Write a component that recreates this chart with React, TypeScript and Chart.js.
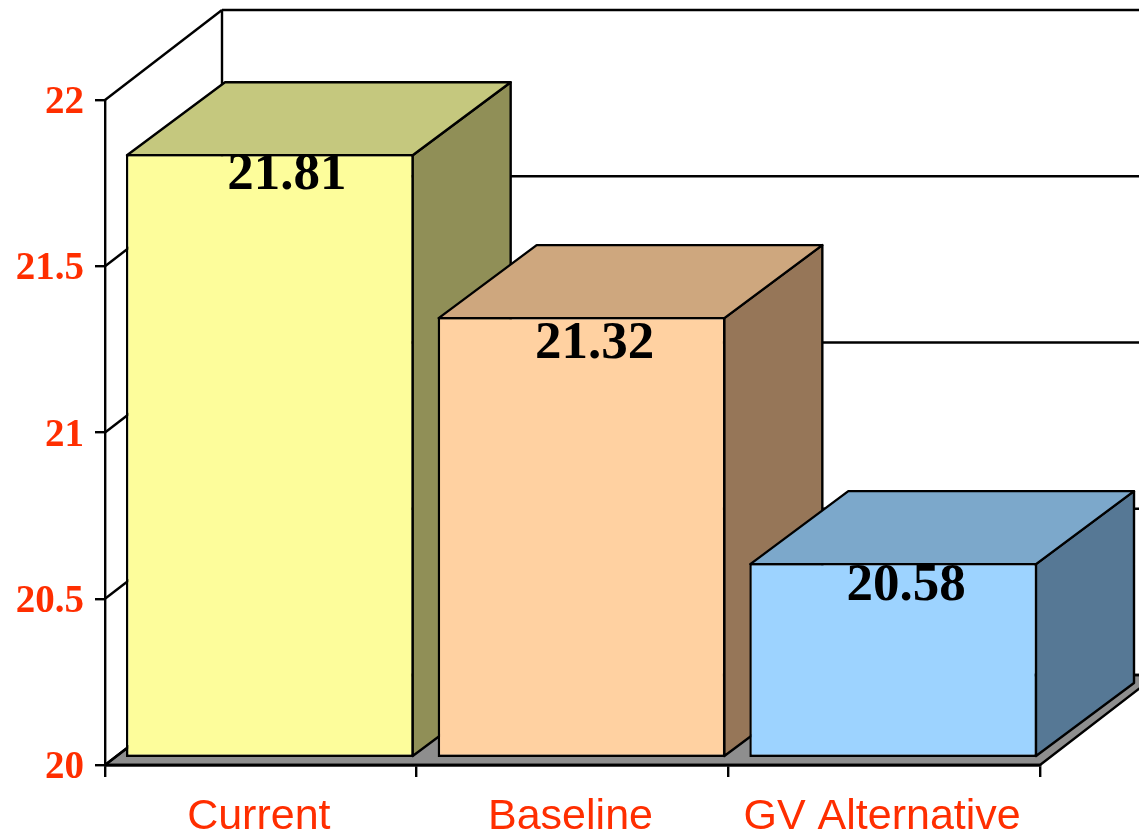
import React, { useEffect, useRef } from "react";
import { Chart, registerables } from "chart.js";

Chart.register(...registerables);

const categories = ["Current", "Baseline", "GV Alternative"];
const values = [21.81, 21.32, 20.58];
const valueLabels = ["21.81", "21.32", "20.58"];
const frontColors = ["#FDFD9B", "#FFD1A1", "#9DD3FF"];
const topColors = ["#C5C87E", "#CEA77E", "#7CA8CB"];
const sideColors = ["#908F57", "#967658", "#567895"];

const RED = "#FF2E00";
const FLOOR = "#8E8E8E";
const LINE = 2.4;
const WALL_DX = 117;
const WALL_DY = -90;
const BAR_DX = 98;
const BAR_DY = -73;
const BAR_SHIFT_X = 9;
const BAR_SHIFT_Y = -9;
const LABEL_NUDGE_X = [26, 22, 22];
const LABEL_NUDGE_Y = [21, 27, 23];

function poly(ctx: CanvasRenderingContext2D, pts: number[][], fill: string | null, stroke = true) {
  ctx.beginPath();
  pts.forEach((p, i) => (i ? ctx.lineTo(p[0], p[1]) : ctx.moveTo(p[0], p[1])));
  ctx.closePath();
  if (fill) {
    ctx.fillStyle = fill;
    ctx.fill();
  }
  if (stroke) {
    ctx.strokeStyle = "#000";
    ctx.lineWidth = LINE;
    ctx.lineJoin = "round";
    ctx.stroke();
  }
}

function segment(ctx: CanvasRenderingContext2D, x1: number, y1: number, x2: number, y2: number) {
  ctx.beginPath();
  ctx.moveTo(x1, y1);
  ctx.lineTo(x2, y2);
  ctx.strokeStyle = "#000";
  ctx.lineWidth = LINE;
  ctx.stroke();
}

const box3d = {
  id: "box3d",
  afterUpdate(chart: any) {
    chart.scales.y.getLabelItems(chart.chartArea).forEach((item: any) => {
      item.textOffset += 3;
    });
    chart.scales.x.getLabelItems(chart.chartArea).forEach((item: any) => {
      item.options.translation[0] -= 2;
    });
  },
  beforeDatasetsDraw(chart: any) {
    const { ctx, chartArea, scales } = chart;
    const yS = scales.y;
    const yBase = yS.getPixelForValue(yS.min);
    const yTop = yS.getPixelForValue(yS.max);
    const l = chartArea.left;
    const r = chartArea.right;
    ctx.save();
    poly(
      ctx,
      [
        [l, yBase],
        [r, yBase],
        [r + WALL_DX, yBase + WALL_DY],
        [l + WALL_DX, yBase + WALL_DY],
      ],
      FLOOR
    );
    yS.ticks.forEach((t: any) => {
      const py = yS.getPixelForValue(t.value);
      segment(ctx, l, py, l + WALL_DX, py + WALL_DY);
      segment(ctx, l + WALL_DX, py + WALL_DY, chart.width + 5, py + WALL_DY);
    });
    segment(ctx, l + WALL_DX, yTop + WALL_DY, l + WALL_DX, yBase + WALL_DY);
    segment(ctx, l, yBase, r, yBase);
    ctx.restore();
  },
  beforeDatasetDraw(chart: any) {
    const { ctx } = chart;
    const els = chart.getDatasetMeta(0).data;
    els.forEach((el: any, i: number) => {
      const L = el.x - el.width / 2 + BAR_SHIFT_X + 1;
      const R = el.x + el.width / 2 + BAR_SHIFT_X - 1;
      const T = el.y + BAR_SHIFT_Y + 1;
      const B = el.base + BAR_SHIFT_Y - 1;
      poly(ctx, [[R, T], [R + BAR_DX, T + BAR_DY], [R + BAR_DX, B + BAR_DY], [R, B]], sideColors[i]);
      poly(ctx, [[L, T], [R, T], [R + BAR_DX, T + BAR_DY], [L + BAR_DX, T + BAR_DY]], topColors[i]);
    });
    ctx.save();
    ctx.translate(BAR_SHIFT_X, BAR_SHIFT_Y);
  },
  afterDatasetDraw(chart: any) {
    chart.ctx.restore();
  },
  afterDatasetsDraw(chart: any) {
    const { ctx } = chart;
    const els = chart.getDatasetMeta(0).data;
    ctx.save();
    ctx.font = 'bold 53px "Liberation Serif"';
    ctx.fillStyle = "#000";
    ctx.textAlign = "center";
    ctx.textBaseline = "middle";
    els.forEach((el: any, i: number) => {
      ctx.fillText(valueLabels[i], el.x + LABEL_NUDGE_X[i], el.y + BAR_SHIFT_Y + LABEL_NUDGE_Y[i]);
    });
    ctx.restore();
  },
};

export default function App() {
  const ref = useRef<HTMLCanvasElement>(null);
  useEffect(() => {
    const chart = new Chart(ref.current as HTMLCanvasElement, {
      type: "bar",
      data: {
        labels: categories,
        datasets: [
          {
            data: values,
            base: 19.997,
            clip: false,
            backgroundColor: frontColors,
            borderColor: "#000",
            borderWidth: 2.4,
            borderSkipped: false,
            barPercentage: 0.923,
            categoryPercentage: 1,
          },
        ],
      },
      options: {
        animation: false,
        responsive: false,
        layout: { padding: { top: 100, right: 99, left: 0, bottom: 0 } },
        plugins: { legend: { display: false }, tooltip: { enabled: false }, title: { display: false } },
        scales: {
          x: {
            afterFit(s: any) {
              s.height = 70;
            },
            grid: { color: "#000", lineWidth: 2.4, drawOnChartArea: false, tickLength: 12 },
            border: { color: "#000", width: 2.4 },
            ticks: {
              autoSkip: false,
              maxRotation: 0,
              color: RED,
              padding: 14,
              font: { family: '"Liberation Sans"', size: 43 },
            },
          },
          y: {
            min: 20,
            max: 22,
            afterFit(s: any) {
              s.width = 105;
            },
            grid: { color: "#000", lineWidth: 2.4, drawOnChartArea: false, tickLength: 10 },
            border: { color: "#000", width: 2.4 },
            ticks: {
              stepSize: 0.5,
              color: RED,
              padding: 11,
              font: { family: '"Liberation Serif"', size: 39, weight: "bold" },
              callback: (v: any) => String(v),
            },
          },
        },
      },
      plugins: [box3d],
    } as any);
    return () => chart.destroy();
  }, []);
  return (
    <div style={{ position: "absolute", left: 0, top: 0, width: 1139, height: 835, overflow: "hidden", background: "#fff" }}>
      <canvas ref={ref} width={1139} height={835} style={{ display: "block" }} />
    </div>
  );
}
